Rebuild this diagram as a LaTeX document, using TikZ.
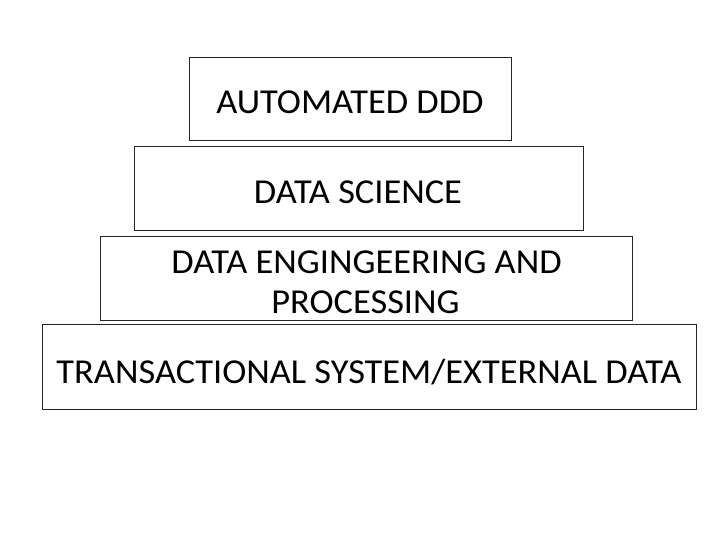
\documentclass[tikz,border=0pt]{standalone}
\usepackage{fontspec}
\setmainfont{Carlito}[FakeStretch=1.04]
\begin{document}
\begin{tikzpicture}[x=1pt,y=-1pt,
  layer/.style={draw=black!85, line width=0.9pt, fill=white, inner sep=0pt},
  label/.style={anchor=base, inner sep=0pt, font=\fontsize{35}{40}\selectfont, text=black}]
\useasboundingbox (0,0) rectangle (720,540);
\node[layer, minimum width=322, minimum height=83] (l4) at (350,98.5) {};
\node[layer, minimum width=449, minimum height=84] (l3) at (358.5,188) {};
\node[layer, minimum width=532, minimum height=84] (l2) at (366,278) {};
\node[layer, minimum width=654, minimum height=85] (l1) at (369,366.5) {};
\node[label] (t4) at (350,113.3) {AUTOMATED DDD};
\node[label] (t3) at (358,203.3) {DATA SCIENCE};
\node[label] (t2a) at (366.5,273.3) {DATA ENGINGEERING AND};
\node[label] (t2b) at (365.5,313.3) {PROCESSING};
\node[label] (t1) at (369,383.3) {TRANSACTIONAL SYSTEM/EXTERNAL DATA};
\end{tikzpicture}
\end{document}
